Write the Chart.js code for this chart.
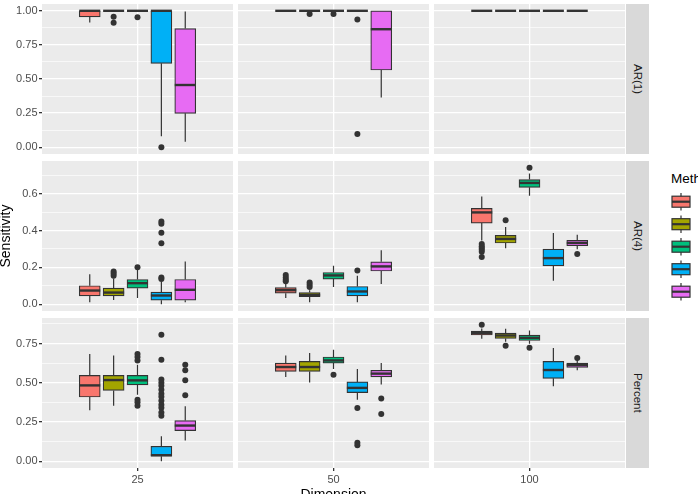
<!DOCTYPE html>
<html>
<head>
<meta charset="utf-8">
<script src="https://cdn.jsdelivr.net/npm/chart.js@4.4.1/dist/chart.umd.min.js"></script>
<style>
  html, body { margin: 0; padding: 0; background: #fff; width: 698px; height: 494px; overflow: hidden; }
  body { position: relative; font-family: "Liberation Sans", Arial, sans-serif; }
  .panel { position: absolute; }
  .strip { position: absolute; background: #D9D9D9; color: #1A1A1A; font-size: 11.5px;
           display: flex; align-items: center; justify-content: center; }
  .strip span { writing-mode: vertical-rl; }
  .txt { position: absolute; line-height: 1; white-space: nowrap; color: #000; }
</style>
</head>
<body>
<script>
// categories
const methods = ['Method 1', 'Method 2', 'Method 3', 'Method 4', 'Method 5'];
const dimensions = ['25', '50', '100'];
const facets = ['AR(1)', 'AR(4)', 'Percent'];
const colors = ['#F8766D', '#A3A500', '#00BF7D', '#00B0F6', '#E76BF3'];

// box stats per method: [lower whisker, q1, median, q3, upper whisker]
const ar1_25 = [[0.915, 0.955, 1.0, 1.0, 1.0], [1, 1, 1, 1, 1], [1, 1, 1, 1, 1], [0.081, 0.615, 1.0, 1.0, 1.0], [0.039, 0.248, 0.456, 0.87, 0.995]];
const ar1_50 = [[1, 1, 1, 1, 1], [1, 1, 1, 1, 1], [1, 1, 1, 1, 1], [1, 1, 1, 1, 1], [0.365, 0.566, 0.865, 1.0, 1.0]];
const ar1_100 = [[1, 1, 1, 1, 1], [1, 1, 1, 1, 1], [1, 1, 1, 1, 1], [1, 1, 1, 1, 1], [1, 1, 1, 1, 1]];
const ar4_25 = [[0.011, 0.045, 0.074, 0.1, 0.163], [0.023, 0.045, 0.063, 0.087, 0.14], [0.033, 0.087, 0.114, 0.134, 0.185], [0.0, 0.022, 0.047, 0.065, 0.12], [0.01, 0.022, 0.078, 0.134, 0.232]];
const ar4_50 = [[0.033, 0.06, 0.076, 0.09, 0.112], [0.011, 0.041, 0.05, 0.063, 0.075], [0.093, 0.136, 0.156, 0.172, 0.208], [0.011, 0.045, 0.069, 0.096, 0.154], [0.11, 0.18, 0.205, 0.23, 0.292]];
const ar4_100 = [[0.345, 0.44, 0.498, 0.52, 0.585], [0.303, 0.332, 0.354, 0.373, 0.419], [0.589, 0.634, 0.658, 0.676, 0.709], [0.127, 0.208, 0.25, 0.299, 0.386], [0.298, 0.317, 0.332, 0.346, 0.377]];
const pct_25 = [[0.324, 0.409, 0.483, 0.547, 0.683], [0.354, 0.451, 0.517, 0.547, 0.674], [0.424, 0.486, 0.515, 0.547, 0.615], [0.0, 0.032, 0.038, 0.095, 0.159], [0.132, 0.195, 0.227, 0.259, 0.35]];
const pct_50 = [[0.537, 0.572, 0.6, 0.625, 0.674], [0.502, 0.572, 0.6, 0.636, 0.689], [0.587, 0.625, 0.642, 0.664, 0.71], [0.392, 0.437, 0.467, 0.505, 0.587], [0.488, 0.537, 0.558, 0.579, 0.625]];
const pct_100 = [[0.78, 0.804, 0.816, 0.829, 0.845], [0.761, 0.782, 0.801, 0.816, 0.844], [0.748, 0.769, 0.786, 0.804, 0.833], [0.477, 0.528, 0.581, 0.636, 0.721], [0.579, 0.598, 0.613, 0.625, 0.647]];

// outliers per method
const ar1_25_out = [[], [0.956, 0.912], [0.953], [0.0], []];
const ar1_50_out = [[], [0.976], [0.976], [0.936, 0.096], []];
const ar1_100_out = [[], [], [], [], []];
const ar4_25_out = [[], [0.178, 0.166, 0.154], [0.2], [0.145, 0.136, 0.331, 0.387, 0.437, 0.449], []];
const ar4_50_out = [[0.158, 0.145, 0.132, 0.124], [0.118, 0.105, 0.093], [], [0.183], []];
const ar4_100_out = [[0.327, 0.315, 0.305, 0.295, 0.285, 0.256], [0.455], [0.74], [], [0.272]];
const pct_25_out = [[], [], [0.683, 0.664, 0.642, 0.392, 0.375, 0.354],
  [0.805, 0.647, 0.52, 0.5, 0.48, 0.455, 0.43, 0.41, 0.385, 0.36, 0.34, 0.31, 0.29], [0.615, 0.58, 0.515, 0.42]];
const pct_50_out = [[], [], [0.551], [0.339, 0.117, 0.102], [0.4, 0.301]];
const pct_100_out = [[0.869], [0.736], [0.723], [], [0.657]];

// tick labels per facet row
const ar1Ticks = [0, 0.25, 0.5, 0.75, 1];
const ar1TickLabels = ['0.00', '0.25', '0.50', '0.75', '1.00'];
const ar4Ticks = [0, 0.2, 0.4, 0.6];
const ar4TickLabels = ['0.0', '0.2', '0.4', '0.6'];
const pctTicks = [0, 0.25, 0.5, 0.75];
const pctTickLabels = ['0.00', '0.25', '0.50', '0.75'];

const rows = [
  { stats: [ar1_25, ar1_50, ar1_100], outs: [ar1_25_out, ar1_50_out, ar1_100_out], ticks: ar1Ticks, labels: ar1TickLabels },
  { stats: [ar4_25, ar4_50, ar4_100], outs: [ar4_25_out, ar4_50_out, ar4_100_out], ticks: ar4Ticks, labels: ar4TickLabels },
  { stats: [pct_25, pct_50, pct_100], outs: [pct_25_out, pct_50_out, pct_100_out], ticks: pctTicks, labels: pctTickLabels }
];

// layout
const colLeft = [42, 238, 434], colW = 191;
const rowTop = [4, 161, 318], rowH = 150;
const yAxisW = 42, xAxisH = 26;
const stripLeft = 626, stripW = 23;

// dodge position of a method inside one dimension (ggplot: width 0.75 split in 5)
const xPos = i => 1 - 0.375 + 0.075 + 0.15 * i;

// panel background, whiskers and medians
const boxPlugin = {
  id: 'boxes',
  beforeDraw(chart) {
    const a = chart.chartArea, ctx = chart.ctx;
    ctx.save();
    ctx.fillStyle = '#EBEBEB';
    ctx.fillRect(a.left, a.top, a.right - a.left, a.bottom - a.top);
    ctx.restore();
  },
  beforeDatasetsDraw(chart) {
    const { ctx, scales: { x, y } } = chart;
    ctx.save();
    ctx.strokeStyle = '#333333';
    ctx.lineWidth = 1.2;
    chart.data.datasets.forEach(ds => {
      if (!ds.stats) return;
      const s = ds.stats, px = x.getPixelForValue(ds.data[0].x);
      ctx.beginPath();
      ctx.moveTo(px, y.getPixelForValue(s[0])); ctx.lineTo(px, y.getPixelForValue(s[1]));
      ctx.moveTo(px, y.getPixelForValue(s[3])); ctx.lineTo(px, y.getPixelForValue(s[4]));
      ctx.stroke();
    });
    ctx.restore();
  },
  afterDatasetsDraw(chart) {
    const { ctx, scales: { y } } = chart;
    ctx.save();
    ctx.strokeStyle = '#333333';
    ctx.lineWidth = 2.4;
    chart.data.datasets.forEach((ds, i) => {
      if (!ds.stats) return;
      const bar = chart.getDatasetMeta(i).data[0];
      const py = y.getPixelForValue(ds.stats[2]);
      ctx.beginPath();
      ctx.moveTo(bar.x - bar.width / 2, py);
      ctx.lineTo(bar.x + bar.width / 2, py);
      ctx.stroke();
    });
    ctx.restore();
  }
};

function yRange(r) {
  let lo = Infinity, hi = -Infinity;
  rows[r].stats.forEach(dim => dim.forEach(s => { lo = Math.min(lo, s[0]); hi = Math.max(hi, s[4]); }));
  rows[r].outs.forEach(dim => dim.forEach(o => o.forEach(v => { lo = Math.min(lo, v); hi = Math.max(hi, v); })));
  const pad = (hi - lo) * 0.05;
  return [lo - pad, hi + pad];
}

function makePanel(r, c) {
  const left = c === 0 ? 0 : colLeft[c];
  const w = c === 0 ? yAxisW + colW : colW;
  const h = r === 2 ? rowH + xAxisH : rowH;
  const div = document.createElement('div');
  div.className = 'panel';
  div.style.left = left + 'px';
  div.style.top = rowTop[r] + 'px';
  const canvas = document.createElement('canvas');
  canvas.width = w; canvas.height = h;
  div.appendChild(canvas);
  document.body.appendChild(div);

  const stats = rows[r].stats[c], outs = rows[r].outs[c];
  const [ymin, ymax] = yRange(r);
  const majors = rows[r].ticks;
  const step = majors[1] - majors[0];
  const tickList = [];
  majors.forEach((v, k) => {
    tickList.push({ value: v, label: rows[r].labels[k], minor: false });
    [v - step / 2, v + step / 2].forEach(m => {
      if (m > ymin && m < ymax && !tickList.some(t => Math.abs(t.value - m) < 1e-9)) tickList.push({ value: m, label: '', minor: true });
    });
  });
  tickList.sort((a, b) => a.value - b.value);

  const datasets = [];
  outs.forEach((o, i) => {
    datasets.push({
      type: 'scatter', label: methods[i] + ' outliers',
      data: o.map(v => ({ x: xPos(i), y: v })),
      pointRadius: 3, pointBackgroundColor: '#333333', pointBorderWidth: 0
    });
  });
  stats.forEach((s, i) => {
    datasets.push({
      type: 'bar', label: methods[i], stats: s,
      data: [{ x: xPos(i), y: [s[1], s[3]] }],
      backgroundColor: colors[i], borderColor: '#333333', borderWidth: 1.2,
      borderSkipped: false, grouped: false, barThickness: 21
    });
  });

  const showY = c === 0, showX = r === 2;
  new Chart(canvas, {
    type: 'bar',
    data: { datasets },
    plugins: [boxPlugin],
    options: {
      responsive: false, animation: false, events: [],
      layout: { padding: 0, autoPadding: false },
      plugins: { legend: { display: false }, tooltip: { enabled: false } },
      scales: {
        x: {
          type: 'linear', min: 0.4, max: 1.6, offset: false,
          border: { display: false },
          grid: { offset: false, color: '#FFFFFF', lineWidth: 1.3, drawTicks: showX, tickLength: 3, tickColor: '#333333' },
          afterBuildTicks: axis => { axis.ticks = [{ value: 1 }]; },
          ticks: { display: showX, autoSkip: false, padding: 2, color: '#4D4D4D',
                   font: { family: '"Liberation Sans", Arial, sans-serif', size: 11 },
                   callback: () => dimensions[c] },
          afterFit: s => { s.height = showX ? xAxisH : 0; s.paddingLeft = 0; s.paddingRight = 0; }
        },
        y: {
          type: 'linear', min: ymin, max: ymax,
          border: { display: false },
          grid: {
            color: '#FFFFFF',
            lineWidth: ctx => (ctx.tick && ctx.tick.minor ? 0.65 : 1.3),
            drawTicks: showY, tickLength: 3,
            tickColor: ctx => (ctx.tick && ctx.tick.minor ? 'rgba(0,0,0,0)' : '#333333')
          },
          afterBuildTicks: axis => { axis.ticks = tickList.map(t => ({ value: t.value, minor: t.minor })); },
          ticks: { display: showY, autoSkip: false, padding: 1.5, color: '#4D4D4D',
                   font: { family: '"Liberation Sans", Arial, sans-serif', size: 11 },
                   callback: (v, k) => tickList[k].label },
          afterFit: s => { s.width = showY ? yAxisW : 0; s.paddingTop = 0; s.paddingBottom = 0; }
        }
      }
    }
  });
}

for (let r = 0; r < 3; r++) for (let c = 0; c < 3; c++) makePanel(r, c);

// facet strips
facets.forEach((f, r) => {
  const d = document.createElement('div');
  d.className = 'strip';
  d.style.left = stripLeft + 'px'; d.style.top = rowTop[r] + 'px';
  d.style.width = stripW + 'px'; d.style.height = rowH + 'px';
  d.innerHTML = '<span>' + f + '</span>';
  document.body.appendChild(d);
});

// axis titles
const yt = document.createElement('div');
yt.className = 'txt';
yt.textContent = 'Sensitivity';
yt.style.fontSize = '14px';
yt.style.width = '120px'; yt.style.height = '14px'; yt.style.textAlign = 'center';
yt.style.left = (4.6 - 60) + 'px'; yt.style.top = (236 - 7) + 'px';
yt.style.transform = 'rotate(-90deg)';
document.body.appendChild(yt);

const xt = document.createElement('div');
xt.className = 'txt';
xt.textContent = 'Dimension';
xt.style.fontSize = '14px';
xt.style.width = '200px'; xt.style.textAlign = 'center';
xt.style.left = ((colLeft[0] + colLeft[2] + colW) / 2 - 100) + 'px'; xt.style.top = '487px';
document.body.appendChild(xt);

// legend
const lt = document.createElement('div');
lt.className = 'txt';
lt.textContent = 'Method';
lt.style.fontSize = '13.5px';
lt.style.left = '671px'; lt.style.top = '171.5px';
document.body.appendChild(lt);

const lc = document.createElement('canvas');
lc.width = 40; lc.height = 120;
lc.style.position = 'absolute'; lc.style.left = '661px'; lc.style.top = '190px';
document.body.appendChild(lc);
const g = lc.getContext('2d');
methods.forEach((m, i) => {
  const cx = 20, cy = 11.7 + 22.5 * i;
  g.strokeStyle = '#333333'; g.lineWidth = 1.2;
  g.beginPath(); g.moveTo(cx, cy - 8.7); g.lineTo(cx, cy + 8.7); g.stroke();
  g.fillStyle = colors[i];
  g.fillRect(cx - 9, cy - 5.5, 18, 11);
  g.strokeRect(cx - 9, cy - 5.5, 18, 11);
  g.lineWidth = 2.2;
  g.beginPath(); g.moveTo(cx - 9, cy); g.lineTo(cx + 9, cy); g.stroke();
});
</script>
</body>
</html>
